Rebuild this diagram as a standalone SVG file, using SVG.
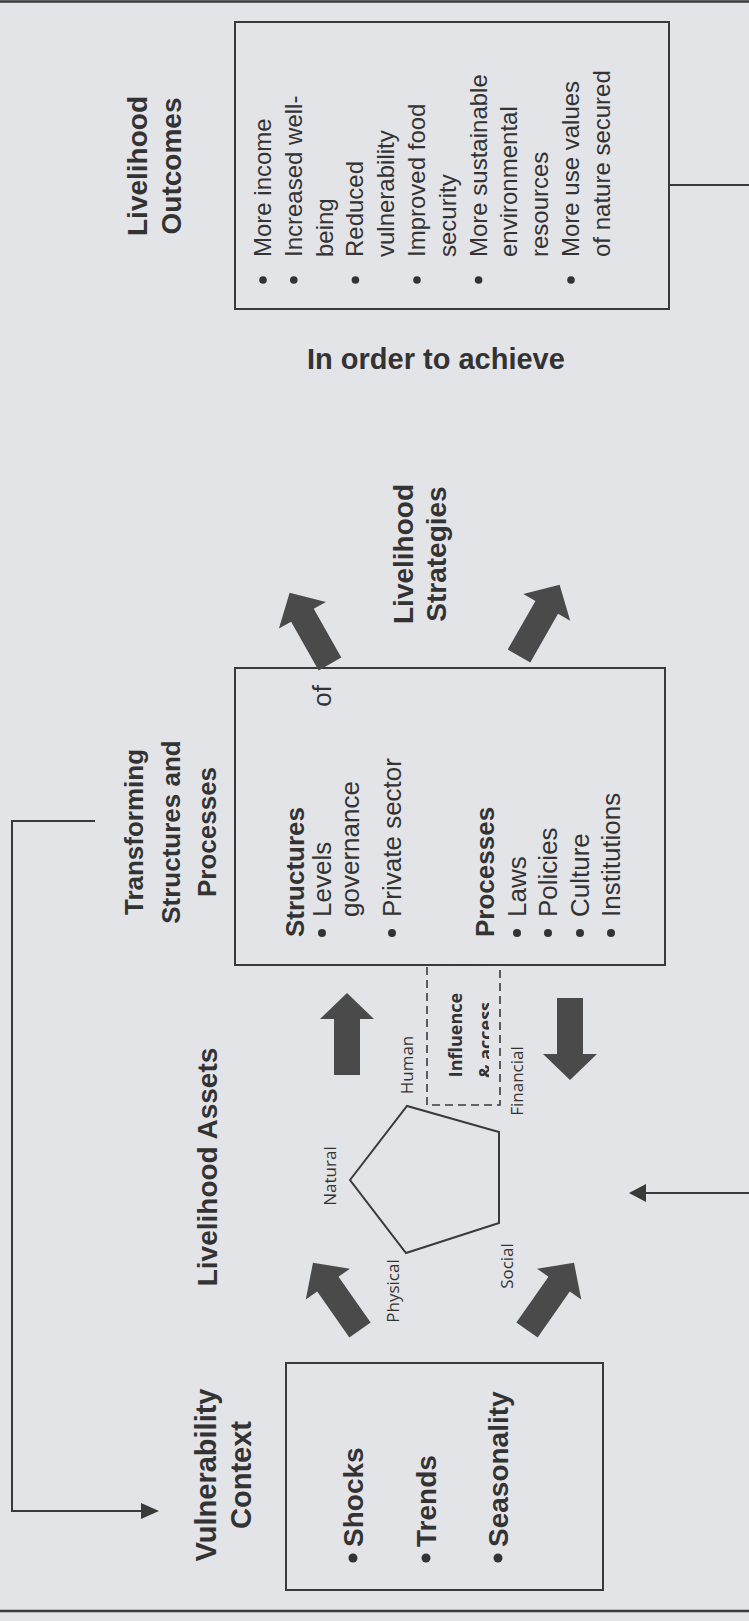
<svg xmlns="http://www.w3.org/2000/svg" width="749" height="1621" viewBox="0 0 749 1621">
  <defs>
    <style>
      .bg { fill: #e3e4e8; }
      .frame { fill: none; stroke: #3a3a3a; stroke-width: 2; }
      .rule { stroke: #3a3a3a; stroke-width: 2.5; }
      .line { fill: none; stroke: #3a3a3a; stroke-width: 2; }
      .dash { fill: none; stroke: #3a3a3a; stroke-width: 1.6; stroke-dasharray: 8 5; }
      .blk { fill: #4a4a4a; }
      .head { fill: #3a3a3a; }
      .title { font-family: "Liberation Sans", Arial, sans-serif; font-weight: bold; fill: #333; }
      .body { font-family: "Liberation Sans", Arial, sans-serif; fill: #333; }
      .lbl { font-family: "Open Sans", "Noto Sans", sans-serif; fill: #333; }
      .dot { fill: #333; }
    </style>
    <!-- block arrow pointing along +x, tail at origin -->
    <path id="blockArrow" d="M0,-13 L56,-13 L56,-27 L82,0 L56,27 L56,13 L0,13 Z"/>
    <clipPath id="accessClip">
      <rect x="420" y="960" width="69" height="150"/>
    </clipPath>
  </defs>

  <rect class="bg" x="0" y="0" width="749" height="1621"/>

  <!-- page rules -->
  <line class="rule" x1="0" y1="1.5" x2="749" y2="1.5"/>
  <line class="rule" x1="0" y1="1611" x2="749" y2="1611"/>

  <!-- Livelihood Outcomes -->
  <g id="outcomes">
    <text class="title" font-size="28" text-anchor="middle" transform="translate(147 166) rotate(-90)"><tspan x="0" y="0">Livelihood</tspan><tspan x="0" y="34">Outcomes</tspan></text>
    <rect class="frame" x="235" y="22" width="434" height="287"/>
    <text class="body" font-size="24" transform="translate(271 257) rotate(-90)">
      <tspan x="0" y="0">More income</tspan>
      <tspan x="0" y="30.8">Increased well-</tspan>
      <tspan x="0" y="61.6">being</tspan>
      <tspan x="0" y="92.4">Reduced</tspan>
      <tspan x="0" y="123.2">vulnerability</tspan>
      <tspan x="0" y="154">Improved food</tspan>
      <tspan x="0" y="184.8">security</tspan>
      <tspan x="0" y="215.6">More sustainable</tspan>
      <tspan x="0" y="246.4">environmental</tspan>
      <tspan x="0" y="277.2">resources</tspan>
      <tspan x="0" y="308">More use values</tspan>
      <tspan x="0" y="338.8">of nature secured</tspan>
    </text>
    <circle class="dot" cx="263" cy="280" r="3.8"/>
    <circle class="dot" cx="293.8" cy="280" r="3.8"/>
    <circle class="dot" cx="355.4" cy="280" r="3.8"/>
    <circle class="dot" cx="417" cy="280" r="3.8"/>
    <circle class="dot" cx="478.6" cy="280" r="3.8"/>
    <circle class="dot" cx="571" cy="280" r="3.8"/>
  </g>

  <g id="achieve-label">
    <text class="title" font-size="29" x="307" y="369">In order to achieve</text>
  </g>

  <!-- Livelihood Strategies -->
  <g id="strategies">
    <text class="title" font-size="28" text-anchor="middle" transform="translate(413 554) rotate(-90)"><tspan x="0" y="0">Livelihood</tspan><tspan x="0" y="33">Strategies</tspan></text>
  </g>

  <!-- Transforming Structures and Processes -->
  <g id="transforming">
    <text class="title" font-size="26" text-anchor="middle" transform="translate(143 832) rotate(-90)"><tspan x="0" y="0">Transforming</tspan><tspan x="0" y="37">Structures and</tspan><tspan x="0" y="73">Processes</tspan></text>
    <rect class="frame" x="235" y="668" width="430" height="297"/>
    <text class="title" font-size="26" transform="translate(304 937) rotate(-90)">Structures</text>
    <text class="body" font-size="26" transform="translate(331 917) rotate(-90)">Levels</text>
    <text class="body" font-size="26" text-anchor="end" transform="translate(331 685) rotate(-90)">of</text>
    <text class="body" font-size="26" transform="translate(359 917) rotate(-90)">governance</text>
    <text class="body" font-size="26" transform="translate(401 917) rotate(-90)">Private sector</text>
    <text class="title" font-size="26" transform="translate(494 937) rotate(-90)">Processes</text>
    <text class="body" font-size="26" transform="translate(526 917) rotate(-90)">Laws</text>
    <text class="body" font-size="26" transform="translate(557 917) rotate(-90)">Policies</text>
    <text class="body" font-size="26" transform="translate(589 917) rotate(-90)">Culture</text>
    <text class="body" font-size="26" transform="translate(620 917) rotate(-90)">Institutions</text>
    <circle class="dot" cx="322" cy="933" r="4"/>
    <circle class="dot" cx="392" cy="933" r="4"/>
    <circle class="dot" cx="517" cy="933" r="4"/>
    <circle class="dot" cx="548" cy="933" r="4"/>
    <circle class="dot" cx="580" cy="933" r="4"/>
    <circle class="dot" cx="611" cy="933" r="4"/>
  </g>

  <!-- Influence & access -->
  <g id="influence">
    <rect class="dash" x="427" y="965" width="73" height="140"/>
    <text class="lbl" font-size="18" font-weight="bold" text-anchor="middle" transform="translate(462 1035) rotate(-90)">Influence</text>
    <g clip-path="url(#accessClip)">
      <text class="lbl" font-size="18" font-weight="bold" text-anchor="middle" transform="translate(492 1040) rotate(-90)">&amp; access</text>
    </g>
  </g>

  <!-- Livelihood Assets -->
  <g id="assets">
    <text class="title" font-size="28" text-anchor="middle" transform="translate(217 1167) rotate(-90)">Livelihood Assets</text>
    <polygon class="line" points="350,1180 407,1106 499,1132 499,1223 406,1253"/>
    <text class="lbl" font-size="17" text-anchor="middle" transform="translate(336 1176) rotate(-90)">Natural</text>
    <text class="lbl" font-size="17" text-anchor="middle" transform="translate(413 1065) rotate(-90)">Human</text>
    <text class="lbl" font-size="17" text-anchor="middle" transform="translate(399 1291) rotate(-90)">Physical</text>
    <text class="lbl" font-size="17" text-anchor="middle" transform="translate(513 1266) rotate(-90)">Social</text>
    <text class="lbl" font-size="17" text-anchor="middle" transform="translate(523 1081) rotate(-90)">Financial</text>
  </g>

  <!-- Vulnerability Context -->
  <g id="vulnerability">
    <text class="title" font-size="29" text-anchor="middle" transform="translate(216 1475) rotate(-90)"><tspan x="0" y="0">Vulnerability</tspan><tspan x="0" y="35">Context</tspan></text>
    <rect class="frame" x="286" y="1363" width="317" height="227"/>
    <text class="title" font-size="28" transform="translate(363 1547) rotate(-90)">Shocks</text>
    <text class="title" font-size="28" transform="translate(436 1547) rotate(-90)">Trends</text>
    <text class="title" font-size="28" transform="translate(508 1547) rotate(-90)">Seasonality</text>
    <circle class="dot" cx="353" cy="1558" r="4.5"/>
    <circle class="dot" cx="426" cy="1558" r="4.5"/>
    <circle class="dot" cx="498" cy="1558" r="4.5"/>
  </g>

  <!-- connectors -->
  <g id="connectors">
    <!-- block arrows -->
    <use href="#blockArrow" class="blk" transform="translate(330 664) rotate(-119.5)"/>
    <use href="#blockArrow" class="blk" transform="translate(519 656) rotate(-60.3)"/>
    <use href="#blockArrow" class="blk" transform="translate(347 1075) rotate(-90)"/>
    <use href="#blockArrow" class="blk" transform="translate(570 998) rotate(90)"/>
    <use href="#blockArrow" class="blk" transform="translate(360 1330) rotate(-125)"/>
    <use href="#blockArrow" class="blk" transform="translate(527 1330) rotate(-55)"/>

    <!-- feedback loop on the left -->
    <polyline class="line" points="95,821 12,821 12,1511 142,1511"/>
    <polygon class="head" points="159,1511 141,1503 141,1519"/>

    <!-- feedback loop on the right -->
    <line class="line" x1="669" y1="185" x2="749" y2="185"/>
    <line class="line" x1="749" y1="1193" x2="644" y2="1193"/>
    <polygon class="head" points="629,1193 646,1184 646,1202"/>
  </g>
</svg>
